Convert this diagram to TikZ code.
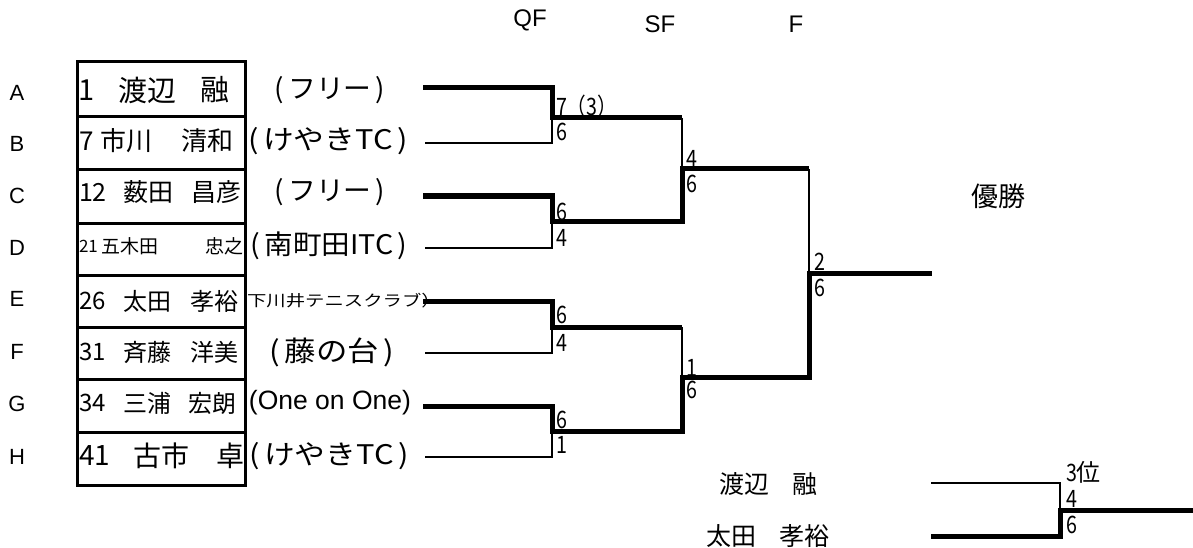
\documentclass[tikz,border=0pt]{standalone}
\usepackage{fontspec}
\usepackage{graphicx}
\setmainfont{Liberation Sans}
\newfontfamily\jp{Noto Sans CJK JP}
\newcommand\fsz[1]{\fontsize{#1}{#1}\selectfont}
\newcommand\sx[2]{\scalebox{#1}[1]{#2}}
\newcommand\scr[1]{\scalebox{0.82}[1]{#1}}
\newcommand\lpar{(\hspace{0.14em}}
\newcommand\rpar{\hspace{0.14em})}
\begin{document}
\begin{tikzpicture}[x=1pt,y=-1pt,
  txt/.style={inner sep=0pt,outer sep=0pt},
  lbl/.style={txt,font=\fsz{22}},
  hdr/.style={txt,font=\fsz{24}},
  jpw/.style={txt,anchor=west},
  club/.style={txt,font=\jp\fsz{27}},
  score/.style={txt,anchor=west,font=\jp\fsz{24}},
  thinln/.style={line width=2.5pt},
  thickln/.style={line width=5pt,line join=miter},
  boxln/.style={line width=3pt},
]
\useasboundingbox[fill=white] (0,0) rectangle (1193,548);

% headers
\node[hdr] (hQF) at (530,20) {QF};
\node[hdr] (hSF) at (660,24) {SF};
\node[hdr] (hF) at (796,24) {F};

% row letters
\node[lbl] (lA) at (17,93) {A};
\node[lbl] (lB) at (17,143.5) {B};
\node[lbl] (lC) at (17,195.5) {C};
\node[lbl] (lD) at (17,248) {D};
\node[lbl] (lE) at (17,299) {E};
\node[lbl] (lF) at (17,352) {F};
\node[lbl] (lG) at (17,404) {G};
\node[lbl] (lH) at (17,457) {H};

% names
\node[jpw,font=\jp\fsz{29}] (nA) at (78,90) {1};
\node[jpw,font=\jp\fsz{29}] (sA1) at (118,90) {渡辺};
\node[jpw,font=\jp\fsz{29}] (gA1) at (200,90) {融};
\node[jpw,font=\jp\fsz{26}] (nB) at (79.5,141) {7};
\node[jpw,font=\jp\fsz{26}] (sB1) at (100,141) {市川};
\node[jpw,font=\jp\fsz{26}] (gB1) at (181,141) {清和};
\node[jpw,font=\jp\fsz{25}] (nC) at (79,192) {12};
\node[jpw,font=\jp\fsz{25}] (sC1) at (123,192) {薮田};
\node[jpw,font=\jp\fsz{25}] (gC1) at (191,192) {昌彦};
\node[jpw,font=\jp\fsz{17}] (nD) at (79,246) {21};
\node[jpw,font=\jp\fsz{19}] (sD1) at (101,246) {五木田};
\node[jpw,font=\jp\fsz{19}] (gD1) at (205,246) {忠之};
\node[jpw,font=\jp\fsz{24}] (nE) at (79,301) {26};
\node[jpw,font=\jp\fsz{24}] (sE1) at (123,301) {太田};
\node[jpw,font=\jp\fsz{24}] (gE1) at (190,301) {孝裕};
\node[jpw,font=\jp\fsz{24}] (nF) at (79,352) {31};
\node[jpw,font=\jp\fsz{24}] (sF1) at (123,352) {斉藤};
\node[jpw,font=\jp\fsz{24}] (gF1) at (190,352) {洋美};
\node[jpw,font=\jp\fsz{24}] (nG) at (79,403) {34};
\node[jpw,font=\jp\fsz{24}] (sG1) at (123,403) {三浦};
\node[jpw,font=\jp\fsz{24}] (gG1) at (188,403) {宏朗};
\node[jpw,font=\jp\fsz{28}] (nH) at (79,456) {41};
\node[jpw,font=\jp\fsz{28}] (sH1) at (133,456) {古市};
\node[jpw,font=\jp\fsz{28}] (gH1) at (216,456) {卓};

% clubs
\node[club] (cA) at (330,90) {\sx{1.03}{\lpar フリー\rpar}};
\node[club] (cB) at (328,141) {\sx{1.14}{\lpar けやきTC\rpar}};
\node[club] (cC) at (330,192) {\sx{1.03}{\lpar フリー\rpar}};
\node[club] (cD) at (329,246) {\sx{1.06}{\lpar 南町田ITC\rpar}};
\begin{scope}
\clip (246,285) rectangle (428.5,318);
\node[txt,anchor=west,font=\jp\fsz{15.5}] (cE) at (247,301) {\sx{1.25}{下川井テニスクラブ\makebox[0pt][l]{）}}};
\end{scope}
\node[club,font=\jp\fsz{28}] (cF) at (332,352) {\sx{1.12}{\lpar 藤の台\rpar}};
\node[txt,font=\fsz{26.5}] (cG) at (330,403) {(One on One)};
\node[club] (cH) at (329,456) {\sx{1.14}{\lpar けやきTC\rpar}};

% box
\draw[boxln] (77,62) rectangle (245,485);
\foreach \yy in {117,170,223,275,327,379,432} \draw[boxln] (77,\yy) -- (245,\yy);

% bracket coordinates
\coordinate (sA) at (423,88);  \coordinate (kA) at (552,88);
\coordinate (sB) at (425,143); \coordinate (kB) at (552,143);
\coordinate (sC) at (423,196); \coordinate (kC) at (552,196);
\coordinate (sD) at (425,248); \coordinate (kD) at (552,248);
\coordinate (sE) at (423,301); \coordinate (kE) at (552,301);
\coordinate (sF) at (425,353); \coordinate (kF) at (552,353);
\coordinate (sG) at (423,406); \coordinate (kG) at (552,406);
\coordinate (sH) at (425,457); \coordinate (kH) at (552,457);
\coordinate (q1) at (552,118); \coordinate (e1) at (682,118);
\coordinate (q2) at (552,221); \coordinate (e2) at (682,221);
\coordinate (q3) at (552,327); \coordinate (e3) at (682,327);
\coordinate (q4) at (552,431); \coordinate (e4) at (682,431);
\coordinate (j1) at (682,169); \coordinate (f1) at (809,169);
\coordinate (j2) at (682,377); \coordinate (f2) at (809,377);
\coordinate (fj) at (809,273); \coordinate (champ) at (932,273);
\coordinate (tA) at (931,483); \coordinate (tAk) at (1060,483);
\coordinate (tB) at (931,536); \coordinate (tBk) at (1060,536);
\coordinate (tj) at (1060,510); \coordinate (tend) at (1193,510);

% thin (losing) lines
\draw[thinln] (sB) -- (kB) -- (q1);
\draw[thinln] (e1) -- (j1);
\draw[thinln] (sD) -- (kD) -- (q2);
\draw[thinln] (f1) -- (fj);
\draw[thinln] (sF) -- (kF) -- (q3);
\draw[thinln] (e3) -- (j2);
\draw[thinln] (sH) -- (kH) -- (q4);
\draw[thinln] (tA) -- (tAk) -- (tj);
% thick (winning) lines
\draw[thickln] (sA) -- (kA) -- (q1) -- (e1);
\draw[thickln] (sC) -- (kC) -- (q2) -- (e2) -- (j1) -- (f1);
\draw[thickln] (sE) -- (kE) -- (q3) -- (e3);
\draw[thickln] (sG) -- (kG) -- (q4) -- (e4) -- (j2) -- (f2) -- (fj) -- (champ);
\draw[thickln] (tB) -- (tBk) -- (tj) -- (tend);

% scores
\node[score] (r1a) at (556,106) {\scr{7（3）}};
\node[score] (r1b) at (556,132) {\scr{6}};
\node[score] (r2a) at (556,212) {\scr{6}};
\node[score] (r2b) at (556,238) {\scr{4}};
\node[score] (r3a) at (556,315) {\scr{6}};
\node[score] (r3b) at (556,343) {\scr{4}};
\node[score] (r4a) at (556,420) {\scr{6}};
\node[score] (r4b) at (556,445) {\scr{1}};
\node[score] (r5a) at (686,159) {\scr{4}};
\node[score] (r5b) at (686,184) {\scr{6}};
\node[score] (r6a) at (686,368) {\scr{1}};
\node[score] (r6b) at (686,390) {\scr{6}};
\node[score] (r7a) at (814,262) {\scr{2}};
\node[score] (r7b) at (814,288) {\scr{6}};
\node[score] (r8t) at (1066,472) {\scr{3}位};
\node[score] (r8a) at (1066,499) {\scr{4}};
\node[score] (r8b) at (1066,525) {\scr{6}};

% champion and third place
\node[txt,font=\jp\fsz{27}] (win) at (998,196) {優勝};
\node[jpw,font=\jp\fsz{25}] (t1a) at (719,484) {渡辺};
\node[jpw,font=\jp\fsz{25}] (t1b) at (792,484) {融};
\node[jpw,font=\jp\fsz{25}] (t2a) at (706,536) {太田};
\node[jpw,font=\jp\fsz{25}] (t2b) at (779,536) {孝裕};
\end{tikzpicture}
\end{document}
